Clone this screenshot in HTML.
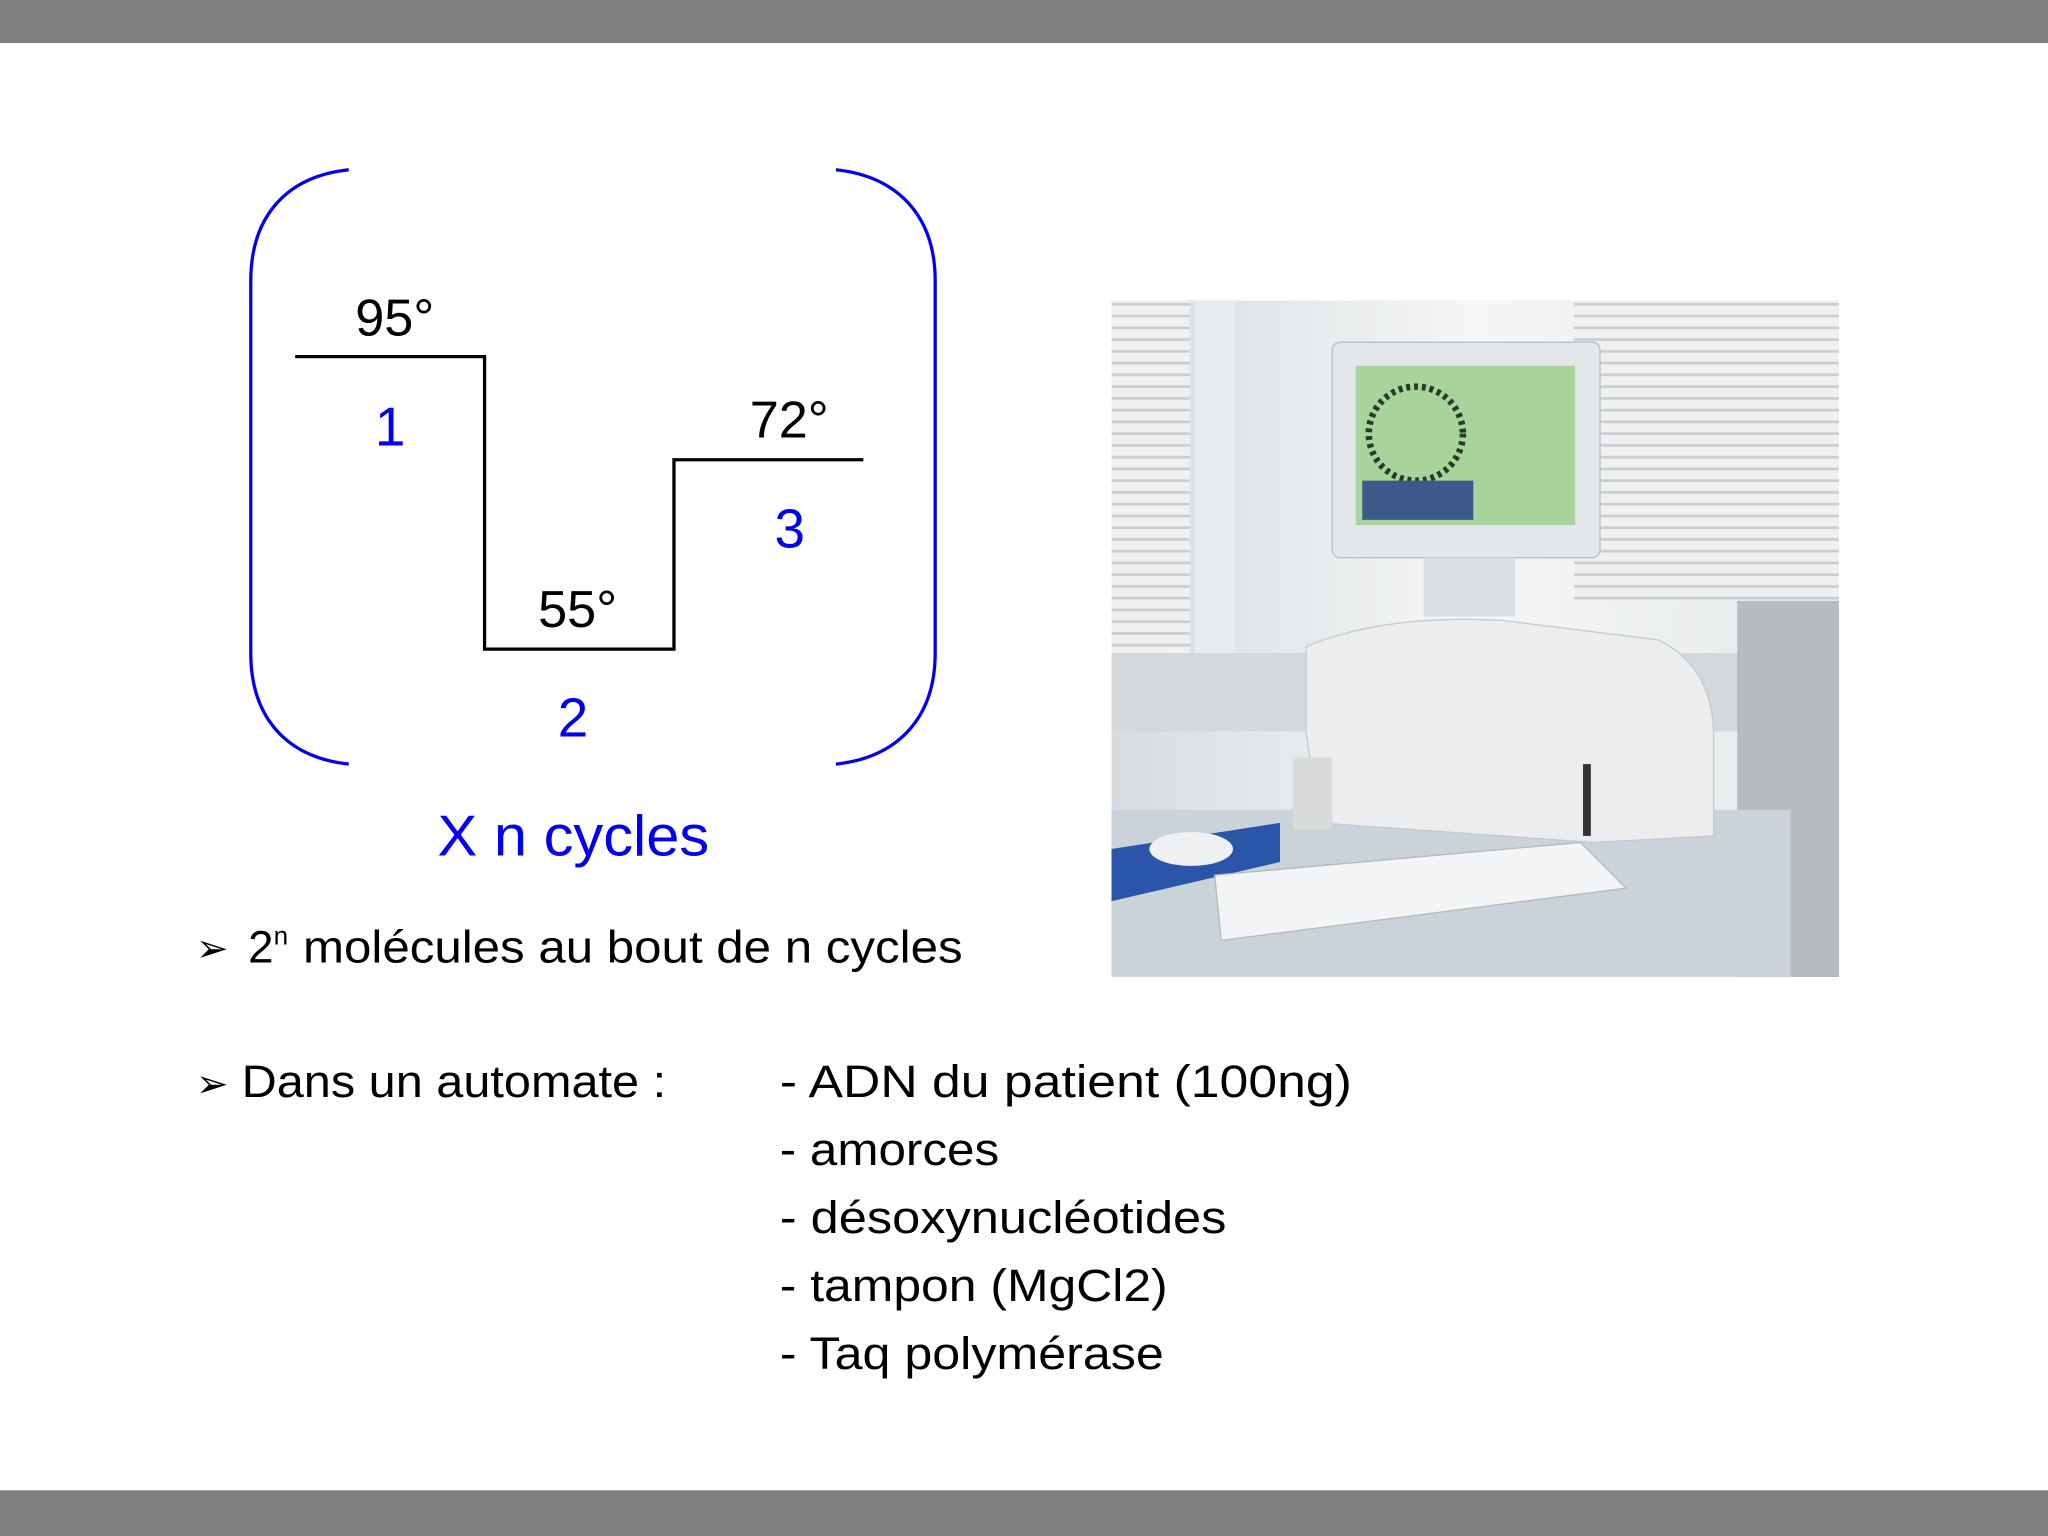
<!DOCTYPE html>
<html><head><meta charset="utf-8"><style>
html,body{margin:0;padding:0;background:#fff;width:2048px;height:1536px;overflow:hidden}
svg{display:block}
text{font-family:"Liberation Sans",sans-serif}
</style></head><body>
<svg width="2048" height="1536" viewBox="0 0 1568 1176" xmlns="http://www.w3.org/2000/svg">
<defs>
<linearGradient id="win" x1="0" x2="1" y1="0" y2="0">
<stop offset="0" stop-color="#d8dcdf"/><stop offset="0.5" stop-color="#f4f6f7"/><stop offset="1" stop-color="#e6e9ea"/></linearGradient>
<pattern id="blind" width="10" height="9" patternUnits="userSpaceOnUse"><rect width="10" height="9" fill="#eef0f1"/><rect y="7" width="10" height="2" fill="#c9cdd0"/></pattern>
</defs>
<rect x="0" y="0" width="1568" height="33" fill="#7f7f7f"/>
<rect x="0" y="1141" width="1568" height="35" fill="#7f7f7f"/>
<g fill="none" stroke="#0000ee" stroke-width="2.5">
<path d="M267,130 C220,135 192,165 192,215 L192,500 C192,550 220,580 267,585"/>
<path d="M640,130 C687,135 716,165 716,215 L716,500 C716,550 687,580 640,585"/>
</g>
<path d="M226,273 L371,273 L371,497 L516,497 L516,352 L661,352" fill="none" stroke="#000" stroke-width="2.5"/>
<g font-size="40" fill="#000">
<text x="272" y="257">95°</text>
<text x="574" y="335">72°</text>
<text x="412" y="480">55°</text>
</g>
<g font-size="42" fill="#0000ee">
<text x="287" y="341">1</text>
<text x="593" y="419">3</text>
<text x="427" y="564">2</text>
<text x="335" y="655" font-size="44" textLength="208" lengthAdjust="spacingAndGlyphs">X n cycles</text>
</g>
<g font-size="35" fill="#000">
<text x="150" y="736" font-size="30">➢</text>
<text x="190" y="737">2<tspan font-size="20" dy="-14">n</tspan></text>
<text x="232" y="737" textLength="505" lengthAdjust="spacingAndGlyphs">molécules au bout de n cycles</text>
<text x="150" y="840" font-size="30">➢</text>
<text x="185" y="840" textLength="325" lengthAdjust="spacingAndGlyphs">Dans un automate :</text>
<text x="597" y="840" textLength="438" lengthAdjust="spacingAndGlyphs">- ADN du patient (100ng)</text>
<text x="597" y="892" textLength="168" lengthAdjust="spacingAndGlyphs">- amorces</text>
<text x="597" y="944" textLength="342" lengthAdjust="spacingAndGlyphs">- désoxynucléotides</text>
<text x="597" y="996" textLength="297" lengthAdjust="spacingAndGlyphs">- tampon (MgCl2)</text>
<text x="597" y="1048" textLength="294" lengthAdjust="spacingAndGlyphs">- Taq polymérase</text>
</g>
<!-- photo -->
<g>
<rect x="851" y="230" width="557" height="518" fill="url(#win)"/>
<rect x="851" y="230" width="60" height="270" fill="url(#blind)"/>
<rect x="1205" y="230" width="203" height="230" fill="url(#blind)"/>
<rect x="915" y="230" width="30" height="280" fill="#e9ecee"/>
<rect x="851" y="500" width="557" height="60" fill="#d4d8db"/>
<rect x="1330" y="460" width="78" height="288" fill="#b5bbbf"/>
<rect x="851" y="620" width="520" height="128" fill="#c9d3d8"/>
<path d="M851,650 L980,630 L980,660 L851,690 Z" fill="#2a55a8"/>
<ellipse cx="912" cy="650" rx="32" ry="13" fill="#eef0f2"/>
<rect x="1020" y="262" width="205" height="165" rx="6" fill="#e4e7e9" stroke="#b9bec2"/>
<rect x="1038" y="280" width="168" height="122" fill="#a8d39a"/>
<circle cx="1084" cy="332" r="36" fill="none" stroke="#2a3a2a" stroke-width="5" stroke-dasharray="3 3"/>
<rect x="1043" y="368" width="85" height="30" fill="#3b5a8a"/>
<rect x="1090" y="427" width="70" height="45" fill="#dcdfe1"/>
<path d="M1000,495 Q1060,470 1150,475 L1270,490 Q1310,510 1312,560 L1312,640 L1220,645 L1010,630 L1000,560 Z" fill="#ecedee" stroke="#c6cacd"/>
<rect x="1212" y="585" width="6" height="55" fill="#333"/>
<path d="M930,670 L1210,645 L1245,680 L935,720 Z" fill="#f3f4f5" stroke="#b5b9bc"/>
<rect x="990" y="580" width="30" height="55" fill="#d8dadc"/>
</g>
</svg>
</body></html>
